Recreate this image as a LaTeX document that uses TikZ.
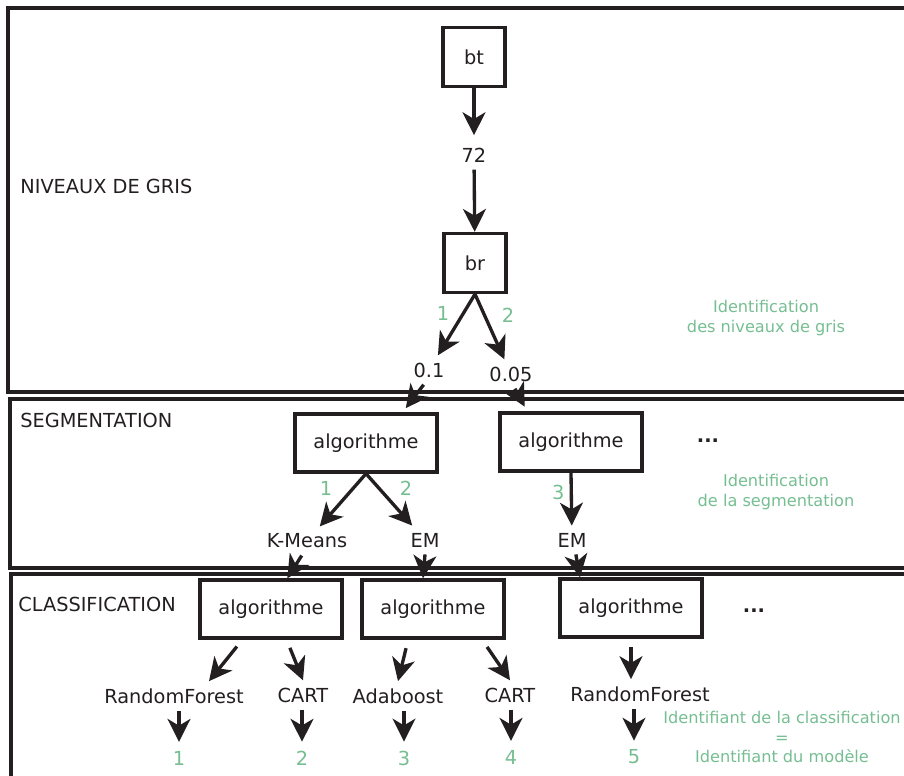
\documentclass[tikz,border=0pt]{standalone}
\usepackage{fontspec}
\setmainfont{DejaVu Sans}
\usetikzlibrary{arrows.meta}
\definecolor{idgreen}{RGB}{118,190,146}
\definecolor{ink}{RGB}{35,31,32}

\begin{document}
\begin{tikzpicture}[x=0.02cm,y=-0.02cm,
        font=\fontsize{11}{13}\selectfont,
        panel/.style={draw=ink,line width=1.9pt},
        bx/.style={draw=ink,line width=1.9pt,text=ink,minimum width=1.24cm,minimum height=1.18cm},
        algo/.style={draw=ink,line width=1.9pt,text=ink,minimum width=2.84cm,minimum height=1.16cm},
        val/.style={text=ink,inner sep=4pt},
        title/.style={text=ink,anchor=west,inner sep=0pt},
        num/.style={text=idgreen,inner sep=1pt,font=\fontsize{11}{13}\selectfont},
        idtxt/.style={text=idgreen,align=center,font=\fontsize{9.2}{11.3}\selectfont},
        arr/.style={draw=ink,line width=1.9pt,-{Stealth[length=13pt,width=13pt,inset=3.8pt]}}]
        \useasboundingbox (0,0) rectangle (904,776);
        \clip (0,0) rectangle (904,776);
        % panels
        \draw[panel] (8,8) rectangle (930,392);
        \draw[panel] (10,399) rectangle (930,568);
        \draw[panel] (11,574) rectangle (930,800);
        \node[title] (tgris) at (20,186) {NIVEAUX DE GRIS};
        \node[title] (tseg) at (20,420) {SEGMENTATION};
        \node[title] (tclass) at (18,604) {CLASSIFICATION};

        \node[bx] (bt) at (474,57) {bt};
        \node[val] (v72) at (474,155) {72};
        \node[bx] (br) at (475,263) {br};
        \node[val] (v01) at (429,370) {0.1};
        \node[val] (v005) at (511,374) {0.05};
        \node[idtxt] (idgris) at (766,318) {Identification\\des niveaux de gris};

        \node[algo] (sa1) at (366,443) {algorithme};
        \node[algo] (sa2) at (571,442) {algorithme};
        \node[val] (sdots) at (708,441) {\textbf{...}};
        \node[val] (km) at (307,541) {K-Means};
        \node[val] (em1) at (425,540) {EM};
        \node[val] (em2) at (572,540) {EM};
        \node[idtxt] (idseg) at (776,492) {Identification\\de la segmentation};

        \node[algo] (ca1) at (271,609) {algorithme};
        \node[algo] (ca2) at (433,609) {algorithme};
        \node[algo] (ca3) at (631,608) {algorithme};
        \node[val] (cdots) at (754,611) {\textbf{...}};
        \node[val] (rf1) at (174,696) {RandomForest};
        \node[val] (cart1) at (303,695) {CART};
        \node[val] (ada) at (398,696) {Adaboost};
        \node[val] (cart2) at (510,695) {CART};
        \node[val] (rf2) at (640,694) {RandomForest};
        \node[num] (n1) at (179,758) {1};
        \node[num] (n2) at (302,758) {2};
        \node[num] (n3) at (404,758) {3};
        \node[num] (n4) at (511,757) {4};
        \node[num] (n5) at (634,757) {5};
        \node[idtxt] (idclass) at (782,737) {Identifiant de la classification\\=\\Identifiant du modèle};

        \draw[arr,shorten >=3pt] (bt) -- (v72);
        \draw[arr] (v72) -- (br);
        \draw[arr] (br.south) -- node[num,pos=.32,left=6pt] {1} (v01);
        \draw[arr] (br.south) -- node[num,pos=.32,right=8pt] {2} (v005);
        \draw[arr,shorten >=3pt] (v01.250) -- (sa1.40);
        \draw[arr,shorten >=3pt] (v005.285) -- (sa2.145);
        \draw[arr] (sa1.south) -- node[num,pos=.28,left=10pt] {1} (km);
        \draw[arr] (sa1.south) -- node[num,pos=.28,right=10pt] {2} (em1);
        \draw[arr] (sa2.south) -- node[num,pos=.37,left=2pt] {3} (em2);
        \draw[arr] (km.250) -- (ca1.62);
        \draw[arr] (em1.south) -- (ca2.108);
        \draw[arr] (em2.-75) -- (ca3.149);
        \draw[arr,shorten <=5pt] (ca1.-133) -- (rf1.23);
        \draw[arr,shorten <=5pt] (ca1.-63) -- (cart1.north);
        \draw[arr,shorten <=5pt] (ca2.-129) -- (ada.north);
        \draw[arr,shorten <=5pt] (ca2.-32) -- (cart2.north);
        \draw[arr,shorten <=5pt] (ca3.south) -- (ca3.south |- rf2.north);
        \foreach \a/\b in {rf1/n1,cart1/n2,ada/n3,cart2/n4,rf2/n5}
            \draw[arr,shorten >=4pt] (\b |- \a.south) -- (\b);
    \end{tikzpicture}
\end{document}
